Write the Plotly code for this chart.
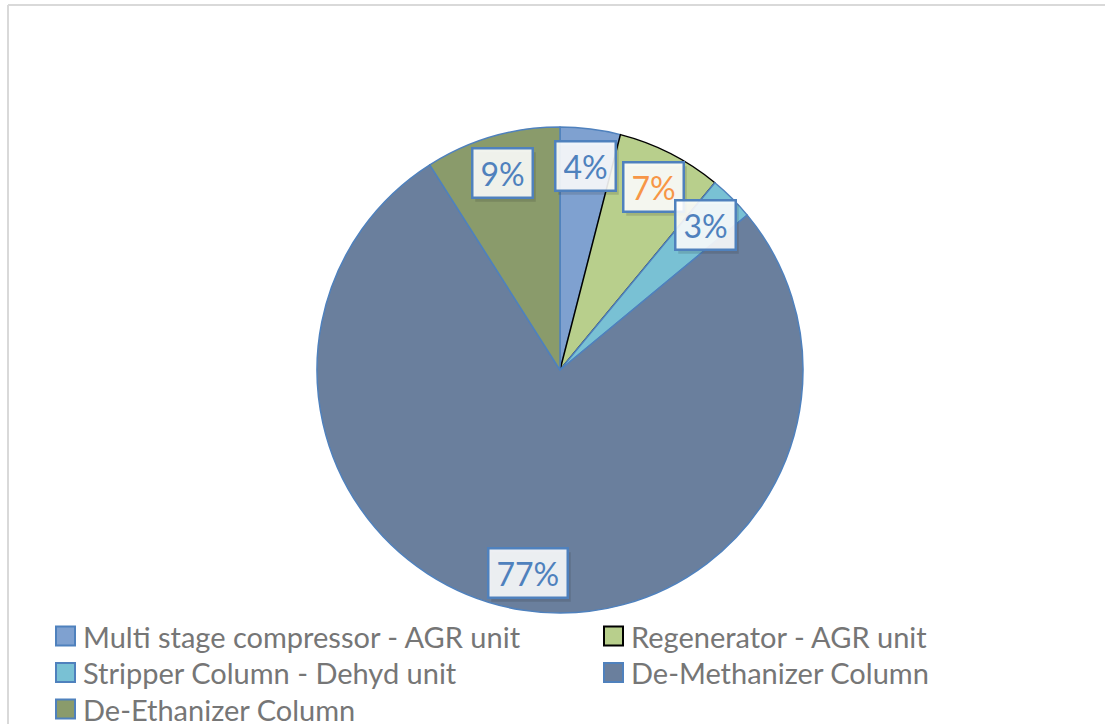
import math
import plotly.graph_objects as go

# Share of energy use by unit
categories = [
    "Multi stage compressor - AGR unit",
    "Regenerator - AGR unit",
    "Stripper Column - Dehyd unit",
    "De-Methanizer Column",
    "De-Ethanizer Column",
]
shares = [4, 7, 3, 77, 9]
label_texts = ["4%", "7%", "3%", "77%", "9%"]

slice_colors = ["#7fa1d0", "#b8cf8c", "#79c1d4", "#6a7f9d", "#8a9b6b"]
edge_colors = ["#4f81bd", "#000000", "#4f81bd", "#4f81bd", "#4f81bd"]
label_colors = ["#4f81bd", "#f79646", "#4f81bd", "#4f81bd", "#4f81bd"]

W, H = 1105, 724
CX, CY, R = 560, 370, 243  # pie centre and radius in pixels
LABEL_R = 0.845
FONT = "Lato, 'Open Sans', sans-serif"

fig = go.Figure()
fig.add_trace(go.Pie(
    labels=categories,
    values=shares,
    sort=False,
    direction="clockwise",
    rotation=0,
    textinfo="none",
    hoverinfo="label+percent",
    showlegend=False,
    marker=dict(colors=slice_colors, line=dict(color=edge_colors, width=1.5)),
    domain=dict(x=[(CX - R) / W, (CX + R) / W], y=[1 - (CY + R) / H, 1 - (CY - R) / H]),
))

# Boxed percentage labels placed along each slice's mid-angle
total = sum(shares)
cum = 0
shadows, boxes = [], []
for v, txt, col in zip(shares, label_texts, label_colors):
    theta = 2 * math.pi * (cum + v / 2) / total
    cum += v
    px = CX + LABEL_R * R * math.sin(theta)
    py = CY - LABEL_R * R * math.cos(theta)
    common = dict(x=px / W, y=1 - py / H, xref="paper", yref="paper",
                  xanchor="center", yanchor="middle",
                  showarrow=False, text=txt, borderpad=7, borderwidth=2.5, height=33,
                  font=dict(family=FONT, size=32))
    shadows.append(dict(common, xshift=3, yshift=-4,
                        font=dict(common["font"], color="rgba(0,0,0,0)"),
                        bgcolor="rgba(40,40,40,0.16)", bordercolor="rgba(0,0,0,0)"))
    boxes.append(dict(common, font=dict(common["font"], color=col),
                      bgcolor="rgba(255,255,255,0.88)", bordercolor="#4f81bd"))

# Two-column legend below the pie
LEG_X = [56, 604]     # left edge of the swatch in each column
LEG_Y0, LEG_DY = 636, 36.5
SW = 19
legend_shapes, legend_texts = [], []
for i, (name, fill, edge) in enumerate(zip(categories, slice_colors, edge_colors)):
    col, row = i % 2, i // 2
    x0 = LEG_X[col]
    yc = LEG_Y0 + row * LEG_DY
    legend_shapes.append(dict(
        type="rect", xref="paper", yref="paper",
        x0=x0 / W, x1=(x0 + SW) / W, y0=1 - (yc + SW / 2) / H, y1=1 - (yc - SW / 2) / H,
        fillcolor=fill, line=dict(color=edge, width=2)))
    legend_texts.append(dict(
        x=(x0 + SW + 6) / W, y=1 - yc / H, xref="paper", yref="paper",
        xanchor="left", yanchor="middle", showarrow=False, text=name,
        font=dict(family=FONT, size=29, color="#767676")))

frame = [
    dict(type="line", xref="paper", yref="paper", x0=8 / W, x1=1.01, y0=1 - 5 / H, y1=1 - 5 / H,
         line=dict(color="#d9d9d9", width=2)),
    dict(type="line", xref="paper", yref="paper", x0=8 / W, x1=8 / W, y0=1 - 5 / H, y1=-0.01,
         line=dict(color="#d9d9d9", width=2)),
]

fig.update_layout(
    width=W, height=H,
    margin=dict(l=0, r=0, t=0, b=0, autoexpand=False),
    paper_bgcolor="white",
    plot_bgcolor="white",
    showlegend=False,
    annotations=shadows + boxes + legend_texts,
    shapes=frame + legend_shapes,
)

fig.write_html("out.html")
